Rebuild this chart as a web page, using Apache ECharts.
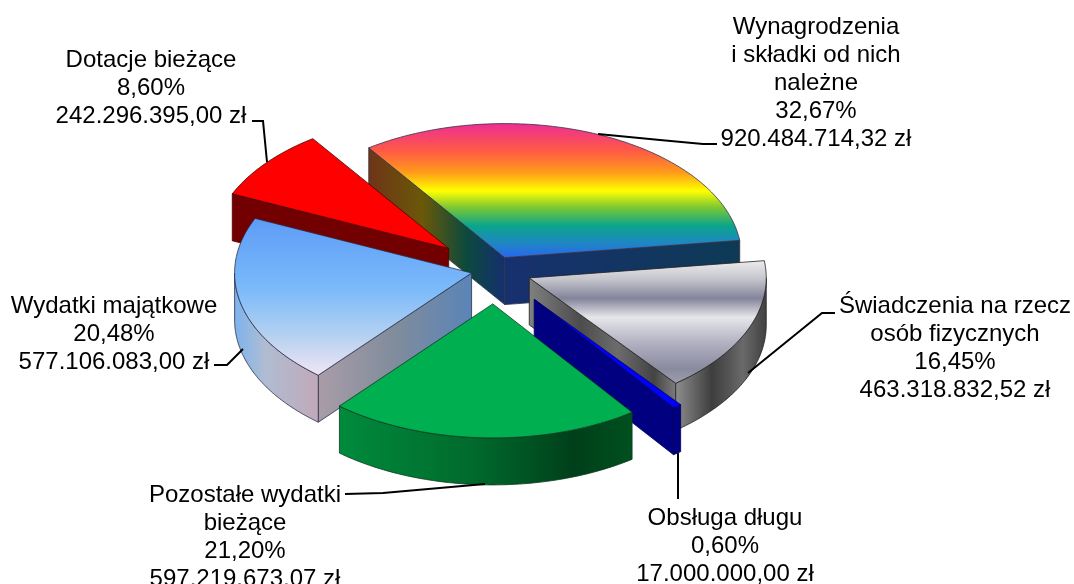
<!DOCTYPE html>
<html>
<head>
<meta charset="utf-8">
<title>Wydatki</title>
<style>
  html, body { margin: 0; padding: 0; background: #fff; }
  #main { width: 1074px; height: 584px; }
</style>
<script src="https://cdn.jsdelivr.net/npm/echarts@6/dist/echarts.min.js"></script>
</head>
<body>
<div id="main"></div>
<script>
var categories = ['Wynagrodzenia\ni składki od nich\nnależne', 'Świadczenia na rzecz\nosób fizycznych', 'Obsługa długu',
  'Pozostałe wydatki\nbieżące', 'Wydatki majątkowe', 'Dotacje bieżące'];
var percents = [32.67, 16.45, 0.60, 21.20, 20.48, 8.60];
var amounts = [920484714.32, 463318832.52, 17000000.00, 597219673.07, 577106083.00, 242296395.00];

// jak daleko kazdy wycinek jest wysuniety ze srodka
var explode = [24, 37, 65, 60, 24, 60];
// kolejnosc rysowania, od tylu do przodu
var drawOrder = [0, 5, 4, 1, 2, 3];

var cx = 495, cy = 270, rx = 237, ry = 134, depth = 47, startAngle = -35;
var FONT = '"Liberation Sans", Arial, sans-serif';

var LinearGradient = echarts.graphic.LinearGradient;
function vert(y0, y1, stops) { return new LinearGradient(0, y0, 0, y1, stops, true); }
function horz(x0, x1, stops) { return new LinearGradient(x0, 0, x1, 0, stops, true); }
function st(list) { return list.map(function (c) { return { offset: c[0], color: c[1] }; }); }

var sliceStyles = [
  { // tecza
    top: vert(124, 258, st([[0, '#ee2f92'], [0.2, '#ff5a46'], [0.36, '#ff9a1a'], [0.5, '#ffff00'], [0.62, '#7fc832'], [0.76, '#0aa58c'], [0.88, '#1e88c0'], [1, '#2a66f0']])),
    start: horz(368, 504, st([[0, '#6e3418'], [0.4, '#6a5808'], [0.72, '#0c4a3c'], [1, '#14306e']])),
    end: horz(504, 738, st([[0, '#17306f'], [1, '#0e3a55']])),
    wall: '#14306e', line: '#333344'
  },
  { // chrom
    top: vert(258, 384, st([[0, '#f2f2f2'], [0.17, '#c4c4cc'], [0.32, '#83839a'], [0.47, '#e6e6ea'], [0.68, '#b0b0c0'], [0.88, '#8a8a9e'], [1, '#9e9eb0']])),
    start: '#666',
    end: horz(529, 676, st([[0, '#808080'], [0.35, '#4c4c4c'], [0.6, '#6c6c6c'], [0.85, '#444444'], [1, '#7c7c7c']])),
    wall: horz(676, 765, st([[0, '#8c8c8c'], [0.25, '#5c5c5c'], [0.4, '#3e3e3e'], [0.6, '#555555'], [0.75, '#6a6a6a'], [0.95, '#4a4a4a'], [1, '#444444']])),
    line: '#222'
  },
  { top: '#0000ff', start: '#000080', end: '#000080', wall: '#000080', line: '#000060' },
  {
    top: '#00b050', start: '#008a3c', end: '#004f20',
    wall: horz(342, 633, st([[0, '#008a3c'], [0.45, '#006a2c'], [0.8, '#003f1a'], [1, '#00501f']])),
    line: '#0b3a20'
  },
  {
    top: vert(218, 378, st([[0, '#5c9cf6'], [0.45, '#7cbafa'], [0.75, '#b8d2f0'], [1, '#f6e6f6']])),
    start: horz(320, 472, st([[0, '#a89ca8'], [0.5, '#808c9c'], [1, '#5a84b8']])),
    end: '#5a84b8',
    wall: horz(236, 320, st([[0, '#7eb4ec'], [0.35, '#b0bcd2'], [1, '#c2a8b8']])),
    line: '#2a3048'
  },
  { top: '#ff0000', start: '#730000', end: '#730000', wall: '#730000', line: '#4a0000' }
];

// katy wycinkow liczone z udzialow
var angles = [];
var acc = startAngle;
percents.forEach(function (p) {
  var sweep = p / 100 * 360;
  angles.push([acc, acc + sweep]);
  acc += sweep;
});

function rad(d) { return d * Math.PI / 180; }
function onRim(c, a) { return [c[0] + rx * Math.sin(rad(a)), c[1] - ry * Math.cos(rad(a))]; }
function down(p) { return [p[0], p[1] + depth]; }
function arc(c, a0, a1) {
  var pts = [], n = Math.max(2, Math.ceil(Math.abs(a1 - a0)));
  for (var i = 0; i <= n; i++) pts.push(onRim(c, a0 + (a1 - a0) * i / n));
  return pts;
}
function poly(pts, fill, line, z2) {
  return { type: 'polygon', z2: z2, shape: { points: pts }, style: { fill: fill, stroke: line, lineWidth: 0.8, lineJoin: 'round' } };
}

function renderSlice(params, api) {
  var i = api.value(0);
  var a0 = angles[i][0], a1 = angles[i][1];
  var mid = (a0 + a1) / 2;
  var c = [cx + explode[i] * Math.sin(rad(mid)), cy - explode[i] * ry / rx * Math.cos(rad(mid))];
  var s = sliceStyles[i];
  var base = drawOrder.indexOf(i) * 10;
  var kids = [];

  // sciana od strony kata poczatkowego
  if (Math.sin(rad(a0)) < 0) {
    var p = onRim(c, a0);
    kids.push(poly([c, p, down(p), down(c)], s.start, s.line, base + 1));
  }
  // sciana od strony kata koncowego
  if (Math.sin(rad(a1)) > 0) {
    var q = onRim(c, a1);
    kids.push(poly([c, q, down(q), down(c)], s.end, s.line, base + 2));
  }
  // zewnetrzna sciana, tylko dolna polowa elipsy
  var w0 = Math.max(a0, 90), w1 = Math.min(a1, 270);
  if (w1 > w0) {
    var rim = arc(c, w0, w1);
    kids.push(poly(rim.concat(rim.map(down).reverse()), s.wall, s.line, base + 3));
  }
  kids.push(poly([c].concat(arc(c, a0, a1)), s.top, s.line, base + 5));
  return { type: 'group', children: kids };
}

function fmtAmount(v) {
  var parts = v.toFixed(2).split('.');
  return parts[0].replace(/\B(?=(\d{3})+$)/g, '.') + ',' + parts[1] + ' zł';
}
function fmtPercent(v) { return v.toFixed(2).replace('.', ',') + '%'; }

// polozenie podpisow: srodek tekstu i gora pierwszej linii
var labelPos = [[816, 13], [955, 292], [725, 504], [245, 481], [114, 292], [151, 46]];
var leaders = [
  [[717, 144], [703, 144], [660, 140], [598, 134]],
  [[835, 313], [822, 313], [748, 373]],
  [[678, 499], [678, 453]],
  [[345, 494], [383, 493], [485, 484]],
  [[214, 365], [227, 365], [243, 349]],
  [[252, 121], [263, 121], [267, 162]]
];

var graphics = [];
leaders.forEach(function (pts) {
  graphics.push({ type: 'polyline', z: 10, shape: { points: pts }, style: { stroke: '#000', lineWidth: 2, fill: null } });
});
categories.forEach(function (name, i) {
  graphics.push({
    type: 'text', z: 10, x: labelPos[i][0], y: labelPos[i][1],
    style: {
      text: name + '\n' + fmtPercent(percents[i]) + '\n' + fmtAmount(amounts[i]),
      fill: '#000', font: '24px ' + FONT, lineHeight: 28, align: 'center', verticalAlign: 'top'
    }
  });
});

var myChart = echarts.init(document.getElementById('main'), null, { renderer: 'canvas' });
myChart.setOption({
  backgroundColor: '#fff',
  animation: false,
  graphic: graphics,
  series: [{
    type: 'custom',
    coordinateSystem: 'none',
    renderItem: renderSlice,
    data: percents.map(function (p, i) { return [i, p]; }),
    silent: true
  }]
});
</script>
</body>
</html>
